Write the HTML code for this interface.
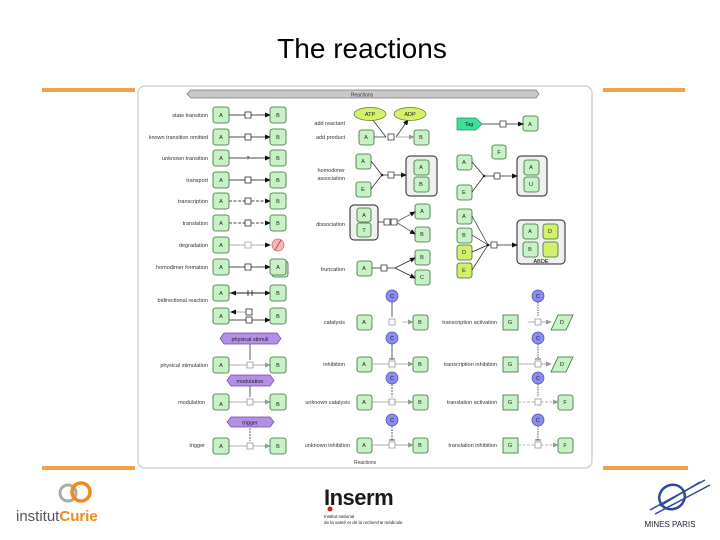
<!DOCTYPE html>
<html><head><meta charset="utf-8"><style>
html,body{margin:0;padding:0;background:#fff;width:720px;height:540px;overflow:hidden}
svg{display:block}
text{font-family:"Liberation Sans",sans-serif}
</style></head><body>
<svg width="720" height="540" viewBox="0 0 720 540" xmlns="http://www.w3.org/2000/svg">
<defs>
<marker id="ar" markerWidth="6" markerHeight="6" refX="5" refY="3" orient="auto" markerUnits="userSpaceOnUse"><path d="M0,0.5 L6,3 L0,5.5z" fill="#111"/></marker>
<marker id="ag" markerWidth="6" markerHeight="6" refX="5" refY="3" orient="auto" markerUnits="userSpaceOnUse"><path d="M0,0.5 L6,3 L0,5.5z" fill="#999"/></marker>
</defs>
<text x="362" y="58" font-size="28" text-anchor="middle" fill="#000">The reactions</text>
<rect x="42" y="88" width="93" height="4" fill="#f2a04a"/>
<rect x="603" y="88" width="82" height="4" fill="#f2a04a"/>
<rect x="42" y="466" width="93" height="4" fill="#f2a04a"/>
<rect x="603" y="466" width="85" height="4" fill="#f2a04a"/>
<rect x="138" y="86" width="454" height="382" rx="7" fill="#fff" stroke="#d4d4d4" stroke-width="1.5"/>
<path d="M191,90 L536,90 L539,94 L536,98 L191,98 L187,94z" fill="#c8c8c8" stroke="#777" stroke-width="0.7"/>
<text x="362" y="96.5" font-size="5" text-anchor="middle" fill="#333">Reactions</text>
<text x="365" y="464" font-size="5" text-anchor="middle" fill="#333">Reactions</text>

<g font-size="5.5" fill="#333" text-anchor="end">
<text x="208" y="117">state transition</text>
<text x="208" y="139">known transition omitted</text>
<text x="208" y="160">unknown transition</text>
<text x="208" y="182">transport</text>
<text x="208" y="203">transcription</text>
<text x="208" y="225">translation</text>
<text x="208" y="247">degradation</text>
<text x="208" y="269">homodimer formation</text>
<text x="208" y="302">bidirectional reaction</text>
<text x="208" y="367">physical stimulation</text>
<text x="205" y="404">modulation</text>
<text x="205" y="447">trigger</text>
<text x="345" y="125">add reactant</text>
<text x="345" y="139">add product</text>
<text x="345" y="172">homodimer</text>
<text x="345" y="180">association</text>
<text x="345" y="226">dissociation</text>
<text x="345" y="271">truncation</text>
<text x="345" y="324">catalysis</text>
<text x="345" y="366">inhibition</text>
<text x="350" y="404">unknown catalysis</text>
<text x="350" y="447">unknown inhibition</text>
<text x="497" y="324">transcription activation</text>
<text x="497" y="366">transcription inhibition</text>
<text x="497" y="404">translation activation</text>
<text x="497" y="447">translation inhibition</text>
</g>

<!-- left column lines -->
<g stroke="#111" stroke-width="0.8" fill="none">
<line x1="229" y1="115" x2="270" y2="115" marker-end="url(#ar)"/>
<line x1="229" y1="137" x2="270" y2="137" marker-end="url(#ar)"/>
<line x1="229" y1="158" x2="270" y2="158" marker-end="url(#ar)"/>
<line x1="229" y1="180" x2="270" y2="180" marker-end="url(#ar)"/>
<line x1="229" y1="201" x2="270" y2="201" stroke-dasharray="3,1.5" marker-end="url(#ar)"/>
<line x1="229" y1="223" x2="270" y2="223" stroke-dasharray="3,1.5" marker-end="url(#ar)"/>
<line x1="229" y1="245" x2="270" y2="245" stroke="#999" marker-end="url(#ar)"/>
<line x1="229" y1="267" x2="270" y2="267" marker-end="url(#ar)"/>
<line x1="229" y1="293" x2="270" y2="293" marker-end="url(#ar)"/>
<line x1="270" y1="293" x2="231" y2="293" marker-end="url(#ar)"/>
<line x1="248" y1="290" x2="248" y2="296"/><line x1="252" y1="290" x2="252" y2="296"/>
<line x1="229" y1="320" x2="270" y2="320" marker-end="url(#ar)"/>
<line x1="250" y1="312" x2="231" y2="312" stroke="#999" marker-end="url(#ar)"/>
</g>
<g fill="#fff" stroke="#111" stroke-width="0.7">
<rect x="245" y="112" width="6" height="6"/><rect x="245" y="134" width="6" height="6"/>
<rect x="245" y="177" width="6" height="6"/><rect x="245" y="198" width="6" height="6"/>
<rect x="245" y="220" width="6" height="6"/><rect x="245" y="242" width="6" height="6" stroke="#999"/>
<rect x="245" y="264" width="6" height="6"/><rect x="246" y="309" width="6" height="6"/><rect x="246" y="317" width="6" height="6"/>
</g>
<text x="248" y="160" font-size="5" text-anchor="middle">?</text>
<circle cx="278" cy="245" r="6" fill="#f4b8b8" stroke="#c66" stroke-width="0.7"/>
<line x1="275" y1="250" x2="281" y2="240" stroke="#c33" stroke-width="0.8"/>

<!-- physical/mod/trigger -->
<g stroke="#999" stroke-width="0.7" fill="none">
<line x1="229" y1="365" x2="270" y2="365" marker-end="url(#ag)"/>
<line x1="229" y1="402" x2="270" y2="402" marker-end="url(#ag)"/>
<line x1="229" y1="446" x2="270" y2="446" marker-end="url(#ag)"/>
</g>
<g stroke="#333" stroke-width="0.8">
<line x1="250" y1="344" x2="250" y2="360"/><line x1="250" y1="386" x2="250" y2="397"/><line x1="250" y1="428" x2="250" y2="441" stroke-dasharray="2,1"/>
</g>
<g fill="#fff" stroke="#888" stroke-width="0.7"><rect x="247" y="362" width="6" height="6"/><rect x="247" y="399" width="6" height="6"/><rect x="247" y="443" width="6" height="6"/></g>
<g fill="#b58ee8" stroke="#6b4aa8" stroke-width="0.7">
<path d="M224,333 L277,333 L281,338.5 L277,344 L224,344 L220,338.5z"/>
<path d="M231,375 L270,375 L274,380.5 L270,386 L231,386 L227,380.5z"/>
<path d="M231,417 L270,417 L274,422 L270,427 L231,427 L227,422z"/>
</g>
<g font-size="5.5" fill="#222" text-anchor="middle"><text x="250" y="341">physical stimuli</text><text x="250" y="383">modulation</text><text x="250" y="424.5">trigger</text></g>

<!-- green nodes -->
<g fill="#c6f2c6" stroke="#3a6a3a" stroke-width="0.8">
<rect x="213" y="107" width="16" height="16" rx="2.5"/><rect x="270" y="107" width="16" height="16" rx="2.5"/>
<rect x="213" y="129" width="16" height="16" rx="2.5"/><rect x="270" y="129" width="16" height="16" rx="2.5"/>
<rect x="213" y="150" width="16" height="16" rx="2.5"/><rect x="270" y="150" width="16" height="16" rx="2.5"/>
<rect x="213" y="172" width="16" height="16" rx="2.5"/><rect x="270" y="172" width="16" height="16" rx="2.5"/>
<rect x="213" y="193" width="16" height="16" rx="2.5"/><rect x="270" y="193" width="16" height="16" rx="2.5"/>
<rect x="213" y="215" width="16" height="16" rx="2.5"/><rect x="270" y="215" width="16" height="16" rx="2.5"/>
<rect x="213" y="237" width="16" height="16" rx="2.5"/>
<rect x="213" y="259" width="16" height="16" rx="2.5"/><rect x="272" y="261" width="16" height="16" rx="2.5"/><rect x="270" y="259" width="16" height="16" rx="2.5"/>
<rect x="213" y="285" width="16" height="16" rx="2.5"/><rect x="270" y="285" width="16" height="16" rx="2.5"/>
<rect x="213" y="308" width="16" height="16" rx="2.5"/><rect x="270" y="308" width="16" height="16" rx="2.5"/>
<rect x="213" y="357" width="16" height="16" rx="2.5"/><rect x="270" y="357" width="16" height="16" rx="2.5"/>
<rect x="213" y="394" width="16" height="16" rx="2.5"/><rect x="270" y="394" width="16" height="16" rx="2.5"/>
<rect x="213" y="438" width="16" height="16" rx="2.5"/><rect x="270" y="438" width="16" height="16" rx="2.5"/>
<!-- middle -->
<rect x="359" y="130" width="15" height="15" rx="2.5"/><rect x="414" y="130" width="15" height="15" rx="2.5"/>
<rect x="356" y="154" width="15" height="15" rx="2.5"/><rect x="356" y="182" width="15" height="15" rx="2.5"/>
<rect x="415" y="204" width="15" height="15" rx="2.5"/><rect x="415" y="227" width="15" height="15" rx="2.5"/>
<rect x="357" y="261" width="15" height="15" rx="2.5"/><rect x="415" y="250" width="15" height="15" rx="2.5"/><rect x="415" y="270" width="15" height="15" rx="2.5"/>
<rect x="357" y="315" width="15" height="15" rx="2.5"/><rect x="413" y="315" width="15" height="15" rx="2.5"/>
<rect x="357" y="357" width="15" height="15" rx="2.5"/><rect x="413" y="357" width="15" height="15" rx="2.5"/>
<rect x="357" y="395" width="15" height="15" rx="2.5"/><rect x="413" y="395" width="15" height="15" rx="2.5"/>
<rect x="357" y="438" width="15" height="15" rx="2.5"/><rect x="413" y="438" width="15" height="15" rx="2.5"/>
<!-- right -->
<rect x="523" y="116" width="15" height="15" rx="2.5"/><rect x="492" y="145" width="14" height="14" rx="2.5"/>
<rect x="457" y="155" width="15" height="15" rx="2.5"/><rect x="457" y="185" width="15" height="15" rx="2.5"/>
<rect x="457" y="209" width="15" height="15" rx="2.5"/><rect x="457" y="228" width="15" height="15" rx="2.5"/>
<rect x="503" y="315" width="15" height="15" rx="0"/><rect x="503" y="357" width="15" height="15" rx="0"/>
<rect x="503" y="395" width="15" height="15" rx="0"/><rect x="503" y="438" width="15" height="15" rx="0"/>
<rect x="558" y="395" width="15" height="15" rx="2.5"/><rect x="558" y="438" width="15" height="15" rx="2.5"/>
<path d="M558,315 L573,315 L566,330 L551,330z"/><path d="M558,357 L573,357 L566,372 L551,372z"/>
</g>
<g fill="#d4f06a" stroke="#3a6a3a" stroke-width="0.8">
<rect x="457" y="245" width="15" height="15" rx="2.5"/><rect x="457" y="263" width="15" height="15" rx="2.5"/>
</g>
<!-- complexes -->
<g fill="#f0f0f0" stroke="#222" stroke-width="1">
<rect x="406" y="156" width="31" height="40" rx="4"/><rect x="350" y="205" width="28" height="35" rx="4"/>
<rect x="517" y="156" width="30" height="40" rx="4"/><rect x="517" y="220" width="48" height="44" rx="4"/>
</g>
<g fill="#c6f2c6" stroke="#3a6a3a" stroke-width="0.8">
<rect x="414" y="160" width="15" height="15" rx="2.5"/><rect x="414" y="177" width="15" height="15" rx="2.5"/>
<rect x="357" y="208" width="14" height="14" rx="2.5"/><rect x="357" y="223" width="14" height="14" rx="2.5"/>
<rect x="524" y="160" width="15" height="15" rx="2.5"/><rect x="524" y="177" width="15" height="15" rx="2.5"/>
<rect x="523" y="224" width="15" height="15" rx="2.5"/><rect x="523" y="242" width="15" height="15" rx="2.5"/>
</g>
<g fill="#d4f06a" stroke="#3a6a3a" stroke-width="0.8"><rect x="543" y="224" width="15" height="15" rx="2.5"/><rect x="543" y="242" width="15" height="15" rx="2.5"/></g>
<text x="541" y="263" font-size="5.5" text-anchor="middle">ABDE</text>

<!-- upper middle/right connectors -->
<g stroke="#222" stroke-width="0.7" fill="none">
<line x1="372" y1="119" x2="386" y2="137"/><line x1="396" y1="137" x2="408" y2="120" marker-end="url(#ar)"/>
<line x1="374" y1="137" x2="386" y2="137"/><line x1="396" y1="137" x2="414" y2="137" stroke="#999" marker-end="url(#ag)"/>
<line x1="371" y1="161" x2="382" y2="175"/><line x1="371" y1="189" x2="382" y2="175"/><line x1="382" y1="175" x2="406" y2="175" marker-end="url(#ar)"/>
<line x1="378" y1="222" x2="396" y2="222"/><line x1="396" y1="222" x2="415" y2="212" marker-end="url(#ar)"/><line x1="396" y1="222" x2="415" y2="234" marker-end="url(#ar)"/>
<line x1="372" y1="268" x2="395" y2="268"/><line x1="395" y1="268" x2="415" y2="258" marker-end="url(#ar)"/><line x1="395" y1="268" x2="415" y2="278" marker-end="url(#ar)"/>
<line x1="482" y1="124" x2="523" y2="124" marker-end="url(#ar)"/>
<line x1="472" y1="162" x2="484" y2="176"/><line x1="472" y1="192" x2="484" y2="176"/><line x1="484" y1="176" x2="517" y2="176" marker-end="url(#ar)"/>
<line x1="472" y1="216" x2="488" y2="245"/><line x1="472" y1="235" x2="488" y2="245"/><line x1="472" y1="252" x2="488" y2="245"/><line x1="472" y1="270" x2="488" y2="245"/><line x1="488" y1="245" x2="517" y2="245" marker-end="url(#ar)"/>
</g>
<g fill="#222"><circle cx="382" cy="175" r="1.3"/><circle cx="484" cy="176" r="1.3"/><circle cx="488" cy="245" r="1.3"/></g>
<g fill="#fff" stroke="#222" stroke-width="0.7">
<rect x="388" y="134" width="6" height="6"/><rect x="388" y="172" width="6" height="6"/><rect x="384" y="219" width="6" height="6"/><rect x="391" y="219" width="6" height="6"/>
<rect x="381" y="265" width="6" height="6"/><rect x="500" y="121" width="6" height="6"/><rect x="494" y="173" width="6" height="6"/><rect x="491" y="242" width="6" height="6"/>
</g>
<ellipse cx="370" cy="114" rx="16" ry="6.5" fill="#d4f06a" stroke="#5a7a1a" stroke-width="0.7"/>
<ellipse cx="410" cy="114" rx="16" ry="6.5" fill="#d4f06a" stroke="#5a7a1a" stroke-width="0.7"/>
<path d="M457,118 L476,118 L482,124 L476,130 L457,130z" fill="#3de09a" stroke="#2a8a5a" stroke-width="0.7"/>

<!-- catalysis column -->
<g stroke="#999" stroke-width="0.7" fill="none">
<line x1="372" y1="322" x2="413" y2="322" stroke-dasharray="0" stroke="#fff"/>
<line x1="402" y1="322" x2="413" y2="322" marker-end="url(#ag)"/>
<line x1="372" y1="364" x2="413" y2="364" marker-end="url(#ag)"/>
<line x1="372" y1="402" x2="413" y2="402" marker-end="url(#ag)"/>
<line x1="372" y1="445" x2="413" y2="445" marker-end="url(#ag)"/>
<line x1="528" y1="322" x2="551" y2="322" marker-end="url(#ag)"/>
<line x1="518" y1="364" x2="551" y2="364" marker-end="url(#ag)"/>
<line x1="518" y1="402" x2="558" y2="402" stroke-dasharray="3,1.5" marker-end="url(#ag)"/>
<line x1="518" y1="445" x2="558" y2="445" stroke-dasharray="3,1.5" marker-end="url(#ag)"/>
</g>
<g stroke="#333" stroke-width="0.8">
<line x1="392" y1="302" x2="392" y2="317"/><line x1="392" y1="344" x2="392" y2="359"/><line x1="392" y1="384" x2="392" y2="397" stroke-dasharray="2,1"/><line x1="392" y1="426" x2="392" y2="440" stroke-dasharray="2,1"/>
<line x1="389" y1="359" x2="395" y2="359"/><line x1="389" y1="440" x2="395" y2="440"/>
<line x1="538" y1="302" x2="538" y2="317" stroke-dasharray="1.5,1"/><line x1="538" y1="344" x2="538" y2="359" stroke-dasharray="1.5,1"/><line x1="538" y1="384" x2="538" y2="397" stroke-dasharray="1.5,1"/><line x1="538" y1="426" x2="538" y2="440" stroke-dasharray="1.5,1"/>
<line x1="535" y1="359" x2="541" y2="359"/><line x1="535" y1="440" x2="541" y2="440"/>
</g>
<g fill="#fff" stroke="#888" stroke-width="0.7">
<rect x="389" y="319" width="6" height="6"/><rect x="389" y="361" width="6" height="6"/><rect x="389" y="399" width="6" height="6"/><rect x="389" y="442" width="6" height="6"/>
<rect x="535" y="319" width="6" height="6"/><rect x="535" y="361" width="6" height="6"/><rect x="535" y="399" width="6" height="6"/><rect x="535" y="442" width="6" height="6"/>
</g>
<g fill="#8a8cf0" stroke="#4a4ab0" stroke-width="0.7">
<circle cx="392" cy="296" r="6"/><circle cx="392" cy="338" r="6"/><circle cx="392" cy="378" r="6"/><circle cx="392" cy="420" r="6"/>
<circle cx="538" cy="296" r="6"/><circle cx="538" cy="338" r="6"/><circle cx="538" cy="378" r="6"/><circle cx="538" cy="420" r="6"/>
</g>

<!-- node labels -->
<g font-size="5.5" fill="#222" text-anchor="middle">
<text x="221" y="117">A</text><text x="278" y="117">B</text><text x="221" y="139">A</text><text x="278" y="139">B</text>
<text x="221" y="160">A</text><text x="278" y="160">B</text><text x="221" y="182">A</text><text x="278" y="182">B</text>
<text x="221" y="203">A</text><text x="278" y="203">B</text><text x="221" y="225">A</text><text x="278" y="225">B</text>
<text x="221" y="247">A</text><text x="221" y="269">A</text><text x="278" y="269">A</text>
<text x="221" y="295">A</text><text x="278" y="295">B</text><text x="221" y="318">A</text><text x="278" y="318">B</text>
<text x="221" y="367">A</text><text x="278" y="367">B</text><text x="221" y="406">A</text><text x="278" y="406">B</text><text x="221" y="448">A</text><text x="278" y="448">B</text>
<text x="370" y="116">ATP</text><text x="410" y="116">ADP</text><text x="469" y="126">Tag</text>
<text x="366" y="139">A</text><text x="421" y="139">B</text><text x="363" y="163">A</text><text x="363" y="191">E</text>
<text x="421" y="169">A</text><text x="421" y="186">B</text><text x="364" y="217">A</text><text x="364" y="232">T</text>
<text x="422" y="213">A</text><text x="422" y="236">B</text><text x="364" y="270">A</text><text x="422" y="259">B</text><text x="422" y="279">C</text>
<text x="530" y="126">A</text><text x="499" y="154">F</text><text x="464" y="164">A</text><text x="464" y="194">E</text>
<text x="531" y="169">A</text><text x="531" y="186">U</text>
<text x="464" y="218">A</text><text x="464" y="237">B</text><text x="464" y="254">D</text><text x="464" y="272">E</text>
<text x="530" y="233">A</text><text x="550" y="233">D</text><text x="530" y="251">B</text>
<text x="364" y="324">A</text><text x="420" y="324">B</text><text x="364" y="366">A</text><text x="420" y="366">B</text>
<text x="364" y="404">A</text><text x="420" y="404">B</text><text x="364" y="447">A</text><text x="420" y="447">B</text>
<text x="510" y="324">G</text><text x="510" y="366">G</text><text x="510" y="404">G</text><text x="510" y="447">G</text>
<text x="562" y="324">D</text><text x="562" y="366">D</text><text x="565" y="404">F</text><text x="565" y="447">F</text>
<text x="392" y="298">C</text><text x="392" y="340">C</text><text x="392" y="380">C</text><text x="392" y="422">C</text>
<text x="538" y="298">C</text><text x="538" y="340">C</text><text x="538" y="380">C</text><text x="538" y="422">C</text>
</g>

<!-- footer logos -->
<circle cx="68" cy="493" r="8" fill="none" stroke="#aaa" stroke-width="3"/>
<circle cx="81" cy="492" r="9" fill="none" stroke="#f08a1a" stroke-width="3.5"/>
<text x="16" y="521" font-size="15" fill="#555">institut<tspan fill="#f08a1a" font-weight="bold">Curie</tspan></text>
<text x="324" y="505" font-size="22" font-weight="bold" fill="#1a1a1a" letter-spacing="-0.5">Inserm</text>
<circle cx="330" cy="509" r="2.5" fill="#d02020"/>
<text x="324" y="518" font-size="4.5" fill="#222">Institut national</text>
<text x="324" y="524" font-size="4.5" fill="#222">de la santé et de la recherche médicale</text>
<ellipse cx="672" cy="497" rx="13" ry="12" fill="none" stroke="#2a4aa0" stroke-width="2.5" transform="rotate(-30 672 497)"/>
<g stroke="#2a4aa0" stroke-width="1.5"><line x1="650" y1="510" x2="705" y2="480"/><line x1="655" y1="514" x2="710" y2="485"/><line x1="660" y1="506" x2="700" y2="482"/></g>
<text x="670" y="527" font-size="8" text-anchor="middle" fill="#223">MINES PARIS</text>
</svg>
</body></html>
